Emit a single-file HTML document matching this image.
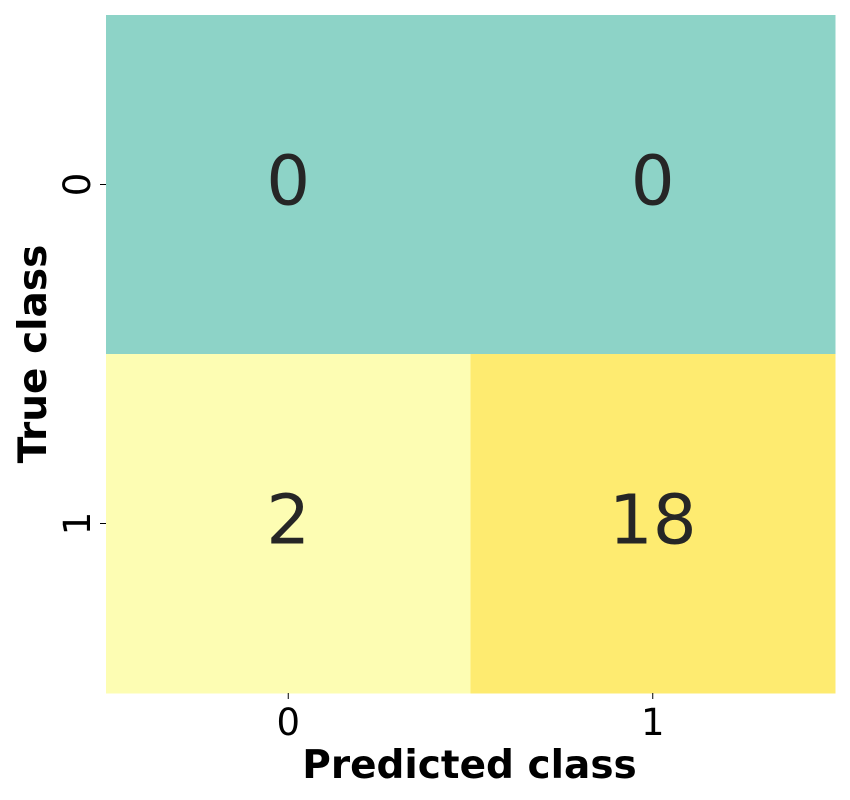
<!DOCTYPE html>
<html><head><meta charset="utf-8"><style>
body{margin:0;background:#fff;}
svg{display:block;font-family:"DejaVu Sans","Liberation Sans",sans-serif;}
</style></head><body>
<svg id="chart" width="850" height="800"></svg>
<script>
const classes = ["0","1"];
const matrix = [[0,0],[2,18]];
const cellColors = {"0":"#8dd3c7","2":"#fdfdb3","18":"#feeb70"};
const xAxisTitle = "Predicted class";
const yAxisTitle = "True class";

const svg = document.getElementById('chart');
const NS = "http://www.w3.org/2000/svg";
const L=106, T=15, W=729, H=678;
const n = classes.length;
const cw = W/n, ch = H/n;
const xPos = i => L + i*cw;
const yPos = j => T + j*ch;
function mk(tag, attrs, text){const e=document.createElementNS(NS,tag);for(const k in attrs)e.setAttribute(k,attrs[k]);if(text!==undefined)e.textContent=text;svg.appendChild(e);return e;}
function colorFor(v){return cellColors[String(v)] || (v===0?"#8dd3c7":"#feeb70");}

for(let r=0;r<n;r++){for(let c=0;c<n;c++){
  const v=matrix[r][c];
  const rect=mk('rect',{x:xPos(c),y:yPos(r),width:cw+0.5,height:ch+0.5,fill:colorFor(v)});
  
  
  const t=mk('text',{x:xPos(c)+cw/2,y:yPos(r)+ch/2+20,'text-anchor':'middle','font-size':69,fill:'#262626'},String(v));
  
  
}}
for(let i=0;i<n;i++){
  const xt=mk('line',{x1:xPos(i)+cw/2,x2:xPos(i)+cw/2,y1:T+H,y2:T+H+6,stroke:'#000','stroke-width':1});
  
  
  const xl=mk('text',{x:xPos(i)+cw/2,y:T+H+42,'text-anchor':'middle','font-size':37,fill:'#000'},classes[i]);
  
  
  const yt=mk('line',{x1:L-6,x2:L,y1:yPos(i)+ch/2,y2:yPos(i)+ch/2,stroke:'#000','stroke-width':1});
  
  
  const cy=yPos(i)+ch/2;
  const yl=mk('text',{x:90,y:cy,'text-anchor':'middle','font-size':37,fill:'#000',transform:'rotate(-90 90 '+cy+')'},classes[i]);
  
  
}
const xt=mk('text',{x:L+W/2-1,y:778,'text-anchor':'middle','font-size':39,'font-weight':'bold',fill:'#000'},xAxisTitle);


const cyy=T+H/2;
const yt=mk('text',{x:46,y:cyy,'text-anchor':'middle','font-size':39,'font-weight':'bold',fill:'#000',transform:'rotate(-90 46 '+cyy+')'},yAxisTitle);


</script>
</body></html>
